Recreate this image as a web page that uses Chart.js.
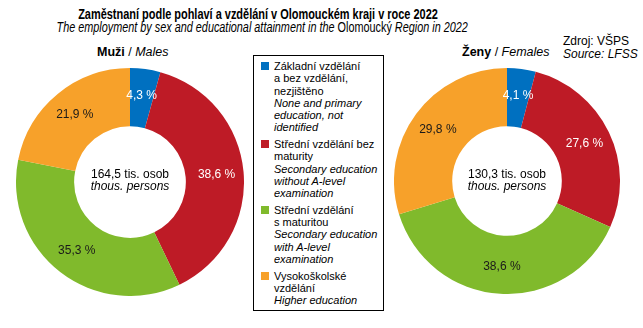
<!DOCTYPE html>
<html>
<head>
<meta charset="utf-8">
<script src="https://cdn.jsdelivr.net/npm/chart.js@4"></script>
<style>
  html, body { margin:0; padding:0; background:#fff; }
  body { width:643px; height:328px; position:relative; overflow:hidden; font-family:"Liberation Sans", Arial, sans-serif; color:#000; }
  .abs { position:absolute; white-space:nowrap; }
  #title { left:-2px; width:520px; top:5px; text-align:center; font-weight:bold; font-size:15px; line-height:17px; transform:scaleX(0.73); transform-origin:260px 0; }
  #subtitle { left:-2px; width:520px; top:19px; text-align:center; font-style:italic; font-size:14px; line-height:16px; transform:scaleX(0.775); transform-origin:260px 0; }
  .sub { font-size:12.5px; line-height:14px; }
  #legend { position:absolute; left:253px; top:55px; width:131px; height:256px; border:1.5px solid #000; box-sizing:border-box; }
  .item { position:absolute; left:20px; font-size:11px; line-height:12.25px; }
  .sq { position:absolute; left:7px; width:8px; height:8px; }
  .center { text-align:center; font-size:12px; line-height:12px; }
  canvas { position:absolute; }
</style>
</head>
<body>
<div id="title" class="abs">Zaměstnaní podle pohlaví a vzdělání v Olomouckém kraji v roce 2022</div>
<div id="subtitle" class="abs">The employment by sex and educational attainment in the <span style="font-style:normal">Olomoucký</span> Region in 2022</div>
<div class="abs sub" style="left:97px;top:45px;"><b>Muži</b> / <i>Males</i></div>
<div class="abs sub" style="left:462px;top:45px;"><b>Ženy</b> / <i>Females</i></div>
<div class="abs" style="left:563px;top:35px;font-size:12px;line-height:13px;">Zdroj: VŠPS<br><i>Source: LFSS</i></div>
<div id="legend"></div>
<canvas id="male" width="228" height="228" style="left:16px;top:68px;"></canvas>
<canvas id="female" width="226" height="226" style="left:394px;top:68px;"></canvas>
<div id="cm" class="abs center" style="left:70px;width:120px;top:168px;"></div>
<div id="cf" class="abs center" style="left:447px;width:120px;top:168px;"></div>
<script>
// ---- data ----
const categoriesCz = ["Základní vzdělání\na bez vzdělání,\nnezjištěno", "Střední vzdělání bez\nmaturity", "Střední vzdělání\ns maturitou", "Vysokoškolské\nvzdělání"];
const categoriesEn = ["None and primary\neducation, not\nidentified", "Secondary education\nwithout A-level\nexamination", "Secondary education\nwith A-level\nexamination", "Higher education"];
const malesPct = [4.3, 38.6, 35.3, 21.9];
const femalesPct = [4.1, 27.6, 38.6, 29.8];
const malesTotal = "164,5";
const femalesTotal = "130,3";

// ---- styles ----
const colors = ["#0070C0", "#BE1B26", "#80BA2C", "#F7A12A"];
const labelColors = ["#ffffff", "#ffffff", "#1a1a1a", "#1a1a1a"];

// legend
const legend = document.getElementById('legend');
let y = 4;
const LH = 12.25;
categoriesCz.forEach((cz, i) => {
  const czL = cz.split('\n'), enL = categoriesEn[i].split('\n');
  const it = document.createElement('div');
  it.className = 'item';
  it.style.top = y + 'px';
  it.innerHTML = czL.join('<br>') + '<br><i>' + enL.join('<br>') + '</i>';
  legend.appendChild(it);
  const sq = document.createElement('div');
  sq.className = 'sq';
  sq.style.top = (y + 2) + 'px';
  sq.style.background = colors[i];
  legend.appendChild(sq);
  y += (czL.length + enL.length) * LH + 4.6;
});

document.getElementById('cm').innerHTML = malesTotal + ' tis. osob<br><i>thous. persons</i>';
document.getElementById('cf').innerHTML = femalesTotal + ' tis. osob<br><i>thous. persons</i>';

const fmt = v => v.toFixed(1).replace('.', ',') + ' %';

const labelPlugin = {
  id: 'sliceLabels',
  afterDatasetsDraw(chart) {
    const ctx = chart.ctx;
    const meta = chart.getDatasetMeta(0);
    const data = chart.data.datasets[0].data;
    ctx.save();
    ctx.font = '12px "Liberation Sans", Arial, sans-serif';
    ctx.textAlign = 'center';
    ctx.textBaseline = 'middle';
    meta.data.forEach((arc, i) => {
      const p = arc.getProps(['x','y','startAngle','endAngle','innerRadius','outerRadius'], true);
      const a = (p.startAngle + p.endAngle) / 2;
      const r = (p.innerRadius + p.outerRadius) / 2 + 2;
      ctx.fillStyle = labelColors[i];
      ctx.fillText(fmt(data[i]), p.x + Math.cos(a) * r, p.y + Math.sin(a) * r);
    });
    ctx.restore();
  }
};

function makeChart(id, values, cutout) {
  return new Chart(document.getElementById(id), {
    type: 'doughnut',
    data: {
      labels: categoriesCz.map(s => s.replace(/\n/g, ' ')),
      datasets: [{ data: values, backgroundColor: colors, borderWidth: 0 }]
    },
    options: {
      responsive: false,
      devicePixelRatio: 1,
      animation: false,
      cutout: cutout,
      layout: { padding: 0 },
      plugins: { legend: { display: false }, tooltip: { enabled: false } }
    },
    plugins: [labelPlugin]
  });
}
makeChart('male', malesPct, '49%');
makeChart('female', femalesPct, '48.5%');
</script>
</body>
</html>
